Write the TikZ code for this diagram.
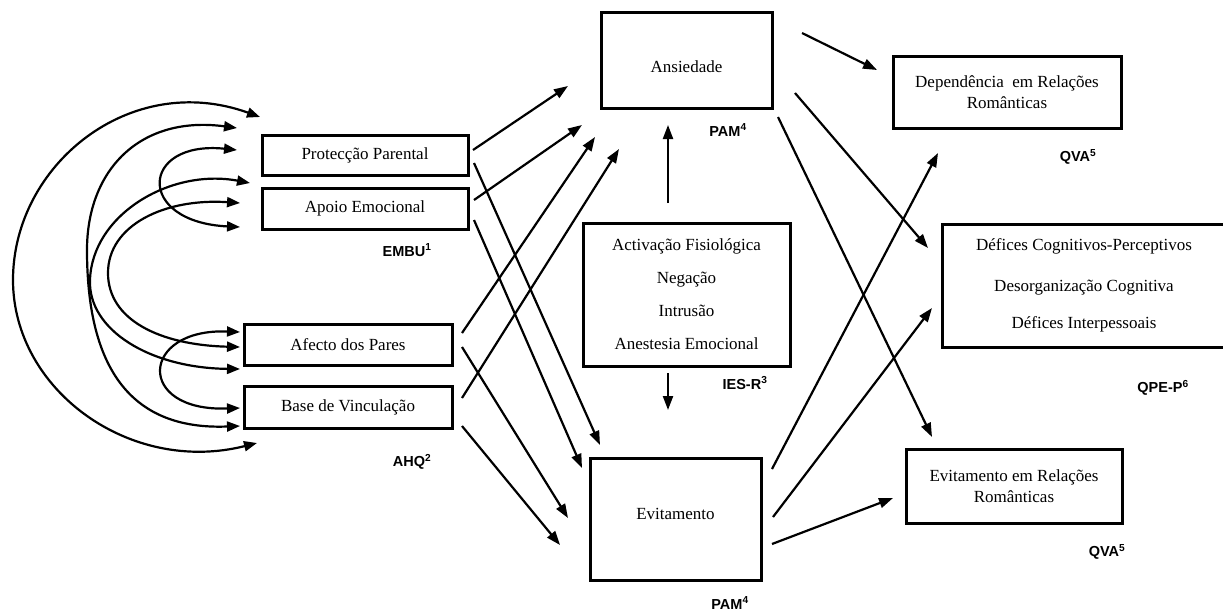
\documentclass[tikz,border=0pt]{standalone}
\usepackage{fontspec}
\setmainfont{Liberation Serif}
\newfontfamily\labelfont{Liberation Sans}
\usetikzlibrary{arrows.meta}
\begin{document}
\begin{tikzpicture}[x=1pt,y=-1pt,
  box/.style={draw, line width=3pt, inner sep=0pt, align=center,
              font=\fontsize{17}{21}\selectfont},
  tag/.style={inner sep=0pt, font=\labelfont\bfseries\fontsize{14.5}{16}\selectfont},
  link/.style={line width=2.2pt, -{Triangle[length=14pt,width=10pt]}},
  pair/.style={line width=2.2pt,
               {Triangle[length=13pt,width=10pt]}-{Triangle[length=13pt,width=10pt]}},
]
\clip (0,0) rectangle (1223,611);

% measurement scales (left)
\node[box, minimum width=206, minimum height=40] (prot)   at (365,155)   {Protecção Parental};
\node[box, minimum width=206, minimum height=41] (apoio)  at (365,208.5) {Apoio Emocional};
\node[box, minimum width=208, minimum height=41] (afecto) at (348,344.5) {Afecto dos Pares};
\node[box, minimum width=208, minimum height=42] (base)   at (348,407)   {Base de Vinculação};

% attachment dimensions and trauma symptoms (centre)
\node[box, minimum width=171, minimum height=96, text height=24pt, text depth=0pt]
  (ans) at (686.5,60) {Ansiedade};
\node[box, minimum width=207, minimum height=143] (ies)  at (686.5,294.5)
  {Activação Fisiológica\\[12pt]Negação\\[12pt]Intrusão\\[12pt]Anestesia Emocional};
\node[box, minimum width=171, minimum height=122, text height=12pt, text depth=12pt]
  (evit) at (675.5,519) {Evitamento};

% outcomes (right)
\node[box, minimum width=228, minimum height=72]  (dep) at (1007,92)
  {Dependência~ em Relações\\Românticas};
\node[box, minimum width=284, minimum height=123] (def) at (1084,285.5)
  {Défices Cognitivos-Perceptivos\\[20pt]Desorganização Cognitiva\\[16pt]Défices Interpessoais};
\node[box, minimum width=216, minimum height=74]  (evr) at (1014,486)
  {Evitamento em Relações\\Românticas};

% instrument labels
\node[tag] (embu) at (407,250)  {EMBU\textsuperscript{1}};
\node[tag] (ahq)  at (412,462)  {AHQ\textsuperscript{2}};
\node[tag] (pamA) at (728,130)  {PAM\textsuperscript{4}};
\node[tag] (iesr) at (745,383)  {IES-R\textsuperscript{3}};
\node[tag] (pamE) at (730,603)  {PAM\textsuperscript{4}};
\node[tag] (qvaD) at (1078,157) {QVA\textsuperscript{5}};
\node[tag] (qpe)  at (1163,388) {QPE-P\textsuperscript{6}};
\node[tag] (qvaE) at (1107,552) {QVA\textsuperscript{5}};

% arrow end points
\foreach \n/\x/\y in {
  prA/473/150, apA/474/200, afA/462/333, baA/462/398,
  inA1/568/86, inA2/582/125, inA3/595/137, inA4/619/149,
  prE/474/163, apE/474/220, afE/462/347, baE/462/426,
  inE1/600/445, inE2/582/468, inE3/568/518, inE4/560/545,
  iesT/668/203, ansB/668/125, iesB/668/373, evitT/668/410,
  ansR1/802/33, ansR2/795/93, ansR3/778/117,
  depL/877/70, defL1/928/248, evrT/932/437,
  evR1/772/469, evR2/773/517, evR3/772/544,
  depB/938/153, defL2/932/308, evrL/893/498,
  t1/260/117, t2/237/128, t3/237/150, t4/250/183, t5/240/203, t6/240/227,
  b1/240/332, b2/240/347, b3/240/369, b4/240/408, b5/240/426, b6/257/443,
  m1/13/280, m2/87/250, m4/90/280, m5/108/273}
  \coordinate (\n) at (\x,\y);

% predictors to Ansiedade and Evitamento
\draw[link] (prA) -- (inA1);
\draw[link] (apA) -- (inA2);
\draw[link] (afA) -- (inA3);
\draw[link] (baA) -- (inA4);
\draw[link] (prE) -- (inE1);
\draw[link] (apE) -- (inE2);
\draw[link] (afE) -- (inE3);
\draw[link] (baE) -- (inE4);

% trauma symptoms
\draw[link] (iesT) -- (ansB);
\draw[link] (iesB) -- (evitT);

% attachment dimensions to outcomes
\draw[link] (ansR1) -- (depL);
\draw[link] (ansR2) -- (defL1);
\draw[link] (ansR3) -- (evrT);
\draw[link] (evR1) -- (depB);
\draw[link] (evR2) -- (defL2);
\draw[link] (evR3) -- (evrL);

% correlations between predictors
\draw[pair] (t1) .. controls (130,70) and (13,165) .. (m1)
                 .. controls (13,390) and (130,475) .. (b6);
\draw[pair] (t2) .. controls (140,115) and (87,170) .. (m2)
                 .. controls (87,380) and (140,430) .. (b5);
\draw[pair] (t4) .. controls (170,168) and (92,215) .. (m4)
                 .. controls (88,330) and (150,368) .. (b3);
\draw[pair] (t5) .. controls (165,198) and (108,225) .. (m5)
                 .. controls (108,320) and (160,345) .. (b2);
\draw[pair] (t3) .. controls (140,140) and (135,222) .. (t6);
\draw[pair] (b1) .. controls (140,328) and (135,412) .. (b4);
\end{tikzpicture}
\end{document}
